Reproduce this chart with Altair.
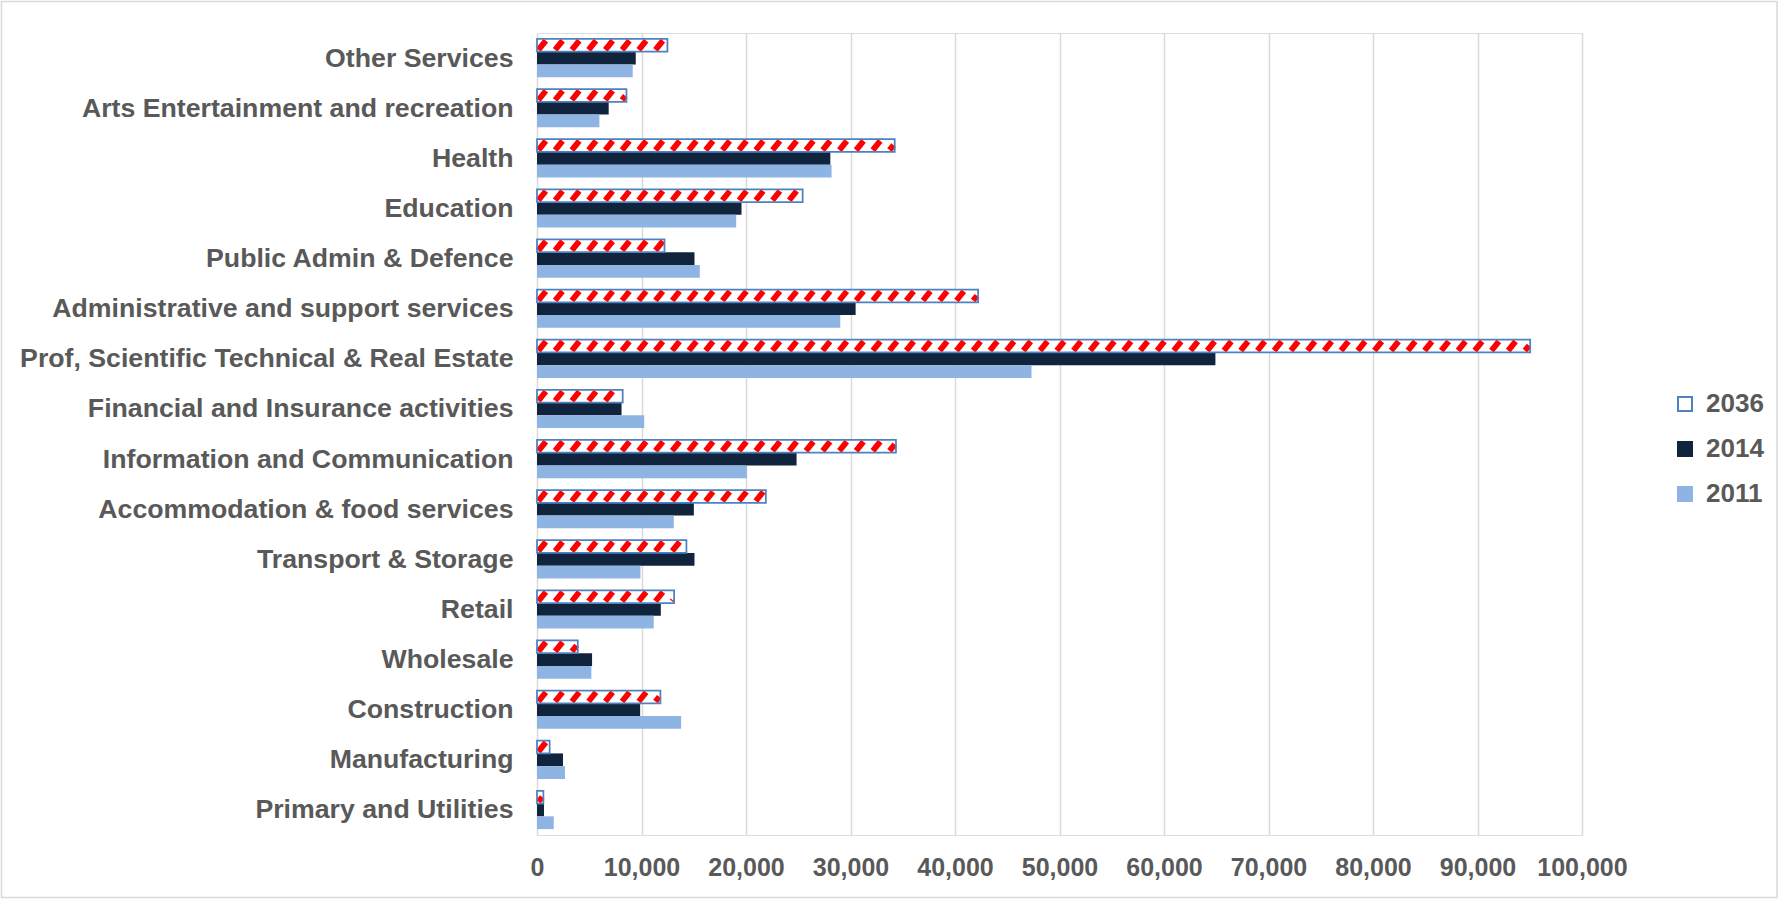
import json
import altair as alt
import pandas as pd

categories = [
    "Other Services",
    "Arts Entertainment and recreation",
    "Health",
    "Education",
    "Public Admin & Defence",
    "Administrative and support services",
    "Prof, Scientific Technical & Real Estate",
    "Financial and Insurance activities",
    "Information and Communication",
    "Accommodation & food services",
    "Transport & Storage",
    "Retail",
    "Wholesale",
    "Construction",
    "Manufacturing",
    "Primary and Utilities",
]
v2036 = [12480, 8560, 34230, 25420, 12200, 42210, 95040, 8200, 34350, 21900, 14300, 13120, 3900, 11810, 1210, 610]
v2014 = [9450, 6860, 28070, 19570, 15070, 30490, 64920, 8090, 24840, 15010, 15070, 11850, 5270, 9870, 2490, 670]
v2011 = [9160, 5970, 28190, 19060, 15580, 29020, 47320, 10260, 20080, 13090, 9900, 11170, 5200, 13790, 2680, 1600]
series = ["2036", "2014", "2011"]
x_ticks = list(range(0, 100001, 10000))

# layout constants (category band = 1 unit)
GROUP = 0.765
BAR = GROUP / 3

rows = []
for i, cat in enumerate(categories):
    for j, (s, vals) in enumerate(zip(series, [v2036, v2014, v2011])):
        top = i - GROUP / 2 + j * BAR
        rows.append({"category": cat, "series": s, "value": vals[i], "x0": 0,
                     "y_top": top, "y_bot": top + BAR})
bars_df = pd.DataFrame(rows)

# diagonal hatching for the 2036 bars, derived from the values
PERIOD = 1600   # x-units between stripes
DX = 980        # horizontal run of a stripe over the bar height
INSET = 0.035
XPAD = 110
stripes = []
for i, val in enumerate(v2036):
    top = i - GROUP / 2
    bot = top + BAR
    kmax = int(val // PERIOD) + 1
    for k in range(-1, kmax + 1):
        xb = k * PERIOD
        t0 = max(INSET / BAR, (XPAD - xb) / DX)
        t1 = min(1 - INSET / BAR, (val - XPAD - xb) / DX)
        if t1 <= t0:
            continue
        stripes.append({"x": xb + DX * t0, "y": bot - BAR * t0,
                        "x2": xb + DX * t1, "y2": bot - BAR * t1})
stripes_df = pd.DataFrame(stripes)

TXT = "#595959"
FONT = "Liberation Sans"

xs = alt.Scale(domain=[0, 100000], nice=False, zero=True)
ys = alt.Scale(domain=[-0.5, 15.5], reverse=True, nice=False, zero=False)

x_axis = alt.Axis(values=x_ticks, labelExpr="format(datum.value, ',')", grid=True,
                  gridColor="#D9D9D9", gridWidth=1.5, domain=False, ticks=False,
                  labelFontSize=25, labelFontWeight="bold", labelColor=TXT, labelFont=FONT,
                  labelPadding=20, labelFlush=False, labelOverlap=False, title=None)
y_axis = alt.Axis(values=list(range(len(categories))),
                  labelExpr=json.dumps(categories) + "[datum.value]",
                  grid=False, domain=False, ticks=False, labelFontSize=26.7,
                  labelFontWeight="bold", labelColor=TXT, labelFont=FONT, labelLimit=700,
                  labelPadding=24, labelOverlap=False, labelFlush=False, title=None)

legend = alt.Legend(
    title=None, orient="none", legendX=1135, legendY=358,
    labelFontSize=26, labelFontWeight="bold", labelColor=TXT, labelFont=FONT,
    symbolType="square", symbolSize=196, symbolStrokeWidth=2,
    rowPadding=19, labelOffset=8, padding=0,
)

frame = alt.Chart(pd.DataFrame({"a": [0]})).mark_rect(
    fillOpacity=0, stroke="#D9D9D9", strokeWidth=1.5
).encode(x=alt.value(-535.5), x2=alt.value(1240), y=alt.value(-31.5), y2=alt.value(864.5))

bars = alt.Chart(bars_df).mark_rect().encode(
    x=alt.X("x0:Q", scale=xs, axis=x_axis),
    x2="value:Q",
    y=alt.Y("y_top:Q", scale=ys, axis=y_axis),
    y2="y_bot:Q",
    fill=alt.Fill("series:N", scale=alt.Scale(domain=series, range=["#FFFFFF", "#10243E", "#8DB4E2"]),
                  legend=legend, title=None),
)

hatch = alt.Chart(stripes_df).mark_rule(color="#FF0000", strokeWidth=5.8, strokeCap="butt").encode(
    x=alt.X("x:Q", scale=xs, axis=x_axis), x2="x2:Q",
    y=alt.Y("y:Q", scale=ys, axis=y_axis), y2="y2:Q",
)

border = alt.Chart(bars_df[bars_df["series"] == "2036"]).mark_rect(
    fillOpacity=0, strokeWidth=1.75
).encode(
    x=alt.X("x0:Q", scale=xs, axis=x_axis), x2="value:Q",
    y=alt.Y("y_top:Q", scale=ys, axis=y_axis), y2="y_bot:Q",
    stroke=alt.Stroke("series:N", scale=alt.Scale(domain=series, range=["#4F81BD", "#10243E", "#8DB4E2"]),
                      legend=legend, title=None),
)

chart = alt.layer(frame, bars, hatch, border).properties(
    width=1045, height=802,
    autosize=alt.AutoSizeParams(type="none"),
    padding={"left": 537, "top": 33, "right": 197, "bottom": 64},
).configure_view(stroke=None).configure(background="white", font=FONT)

chart.save("out.html", embed_options={"renderer": "svg", "actions": False})
